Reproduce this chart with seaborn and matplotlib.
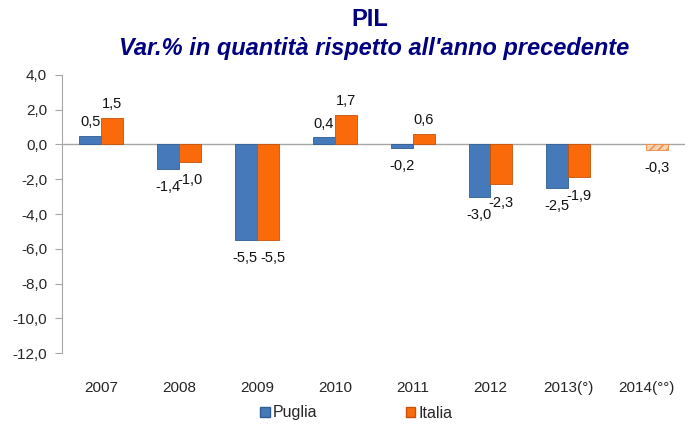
import numpy as np
import pandas as pd
import matplotlib
matplotlib.use("Agg")
import matplotlib.pyplot as plt
import seaborn as sns
from matplotlib.patches import Patch

# dati
anni = ['2007', '2008', '2009', '2010', '2011', '2012', '2013(°)', '2014(°°)']
puglia = [0.5, -1.4, -5.5, 0.4, -0.2, -3.0, -2.5, np.nan]
italia = [1.5, -1.0, -5.5, 1.7, 0.6, -2.3, -1.9, -0.3]

df = pd.DataFrame({
    'Anno': anni * 2,
    'Valore': puglia + italia,
    'Serie': ['Puglia'] * len(anni) + ['Italia'] * len(anni),
})

sns.set_style("white")
plt.rcParams['font.family'] = ['Liberation Sans', 'DejaVu Sans']

fig = plt.figure(figsize=(6.92, 4.28), dpi=100)
ax = fig.add_axes([0.09, 0.175, 0.9, 0.65])

colori = {'Puglia': '#4679ba', 'Italia': '#fb6a0a'}
sns.barplot(data=df, x='Anno', y='Valore', hue='Serie', palette=colori,
            width=0.564, saturation=1, ax=ax, errorbar=None, legend=False,
            edgecolor='none')

# bordi piu scuri + etichette dei valori
bordi = {'Puglia': '#2f5d93', 'Italia': '#c55208'}
# nel 2009 le due etichette sono un po' distanziate
spost = {'Puglia': -1, 'Italia': 4}
for cont, serie in zip(ax.containers, ['Puglia', 'Italia']):
    for p in cont.patches:
        if p is None or np.isnan(p.get_height()):
            continue
        p.set_edgecolor(bordi[serie])
        p.set_linewidth(0.6)
        val = p.get_height() if p.get_y() == 0 else p.get_y() + p.get_height()
        xc = p.get_x() + p.get_width() / 2
        dx = spost[serie] if round(xc) == 2 else 0
        off = 5 if val >= 0 else -8
        ax.annotate(f'{val:.1f}'.replace('.', ','), (xc, val),
                    xytext=(dx, off), textcoords='offset points',
                    ha='center', va='bottom' if val >= 0 else 'top',
                    fontsize=10.5, color='#111111')

# 2014 Italia: stima, riempimento tratteggiato
p14 = [p for p in ax.containers[1].patches if p is not None][-1]
p14.set_facecolor('#fbd2b0')
p14.set_edgecolor('#f08a40')
p14.set_hatch('////')

ax.axhline(0, color='#a6a6a6', lw=1, zorder=0)
ax.set_ylim(-12, 4)
yt = np.arange(-12, 4.1, 2)
ax.set_yticks(yt)
ax.set_yticklabels([f'{v:.1f}'.replace('.', ',') for v in yt], fontsize=11)
ax.tick_params(axis='y', length=5, color='#a6a6a6', left=True, pad=6)
ax.tick_params(axis='x', length=0, labelsize=11, pad=20)
ax.set_xlim(-0.5, 7.5)
ax.set_xlabel('')
ax.set_ylabel('')
for s in ['top', 'right', 'bottom']:
    ax.spines[s].set_visible(False)
ax.spines['left'].set_color('#a6a6a6')

fig.text(0.535, 1 - 20 / 428, 'PIL', ha='center', va='center', fontsize=17,
         fontweight='bold', color='#000080')
fig.text(0.54, 1 - 48 / 428, "Var.% in quantità rispetto all'anno precedente",
         ha='center', va='center', fontsize=17, fontweight='bold',
         style='italic', color='#000080')

handles = [Patch(facecolor=colori['Puglia'], edgecolor=bordi['Puglia']),
           Patch(facecolor=colori['Italia'], edgecolor=bordi['Italia'])]
fig.legend(handles, ['Puglia', 'Italia'], loc='center', ncol=2,
           bbox_to_anchor=(0.515, 1 - 413 / 428), frameon=False, fontsize=11.5,
           handlelength=0.6, handleheight=0.6, handletextpad=0.2,
           columnspacing=5.5)

fig.savefig('out.png', dpi=100)
